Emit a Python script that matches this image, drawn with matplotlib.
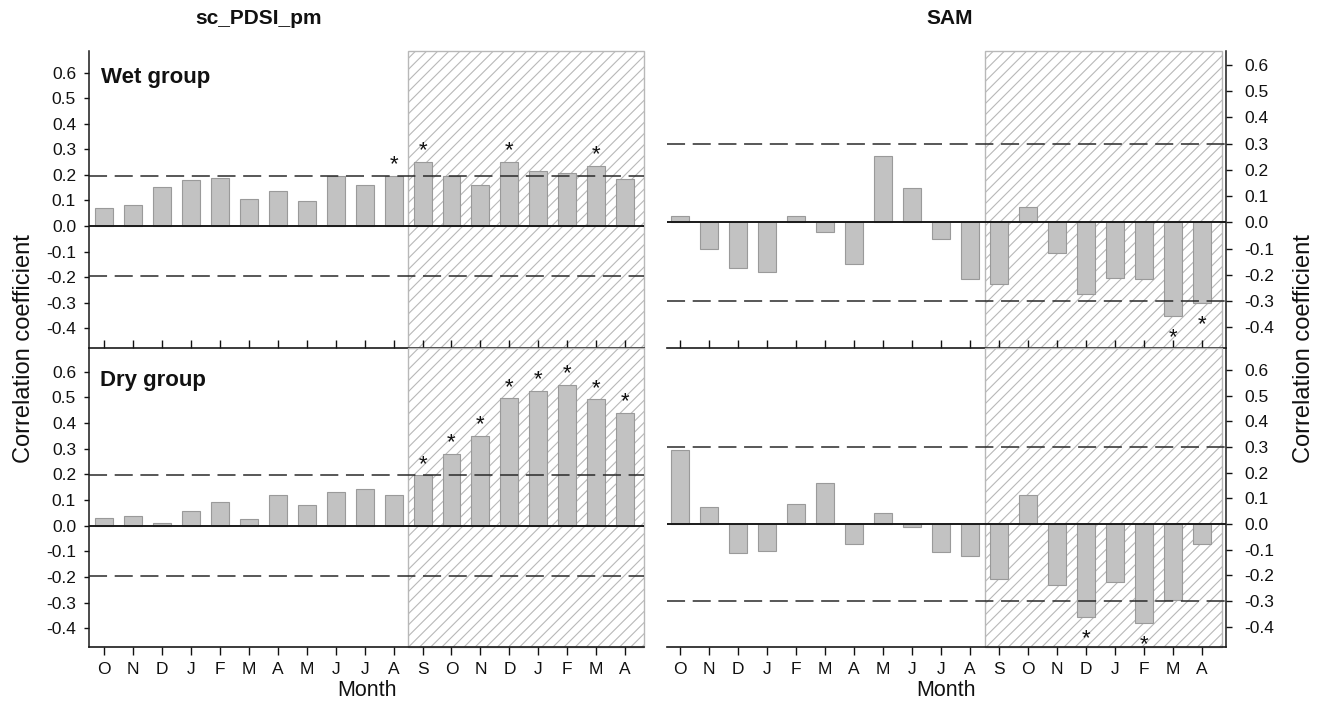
import matplotlib
matplotlib.use("Agg")
import matplotlib.pyplot as plt
import numpy as np

plt.rcParams['font.family'] = ['Liberation Sans', 'DejaVu Sans']
plt.rcParams['axes.unicode_minus'] = False
plt.rcParams['lines.scale_dashes'] = False
plt.rcParams['hatch.linewidth'] = 0.8

# ---------------- data ----------------
months = ['O', 'N', 'D', 'J', 'F', 'M', 'A', 'M', 'J', 'J', 'A',
          'S', 'O', 'N', 'D', 'J', 'F', 'M', 'A']

pdsi_wet = [0.072, 0.084, 0.154, 0.179, 0.187, 0.104, 0.136, 0.099, 0.195, 0.162,
            0.197, 0.249, 0.195, 0.162, 0.250, 0.214, 0.208, 0.234, 0.182]
pdsi_wet_sig = [0, 0, 0, 0, 0, 0, 0, 0, 0, 0, 1, 1, 0, 0, 1, 0, 0, 1, 0]

pdsi_dry = [0.031, 0.039, 0.012, 0.059, 0.094, 0.024, 0.119, 0.082, 0.133, 0.143,
            0.119, 0.196, 0.280, 0.350, 0.496, 0.525, 0.549, 0.492, 0.440]
pdsi_dry_sig = [0, 0, 0, 0, 0, 0, 0, 0, 0, 0, 0, 1, 1, 1, 1, 1, 1, 1, 1]

sam_wet = [0.023, -0.103, -0.174, -0.189, 0.023, -0.036, -0.160, 0.254, 0.131, -0.064,
           -0.217, -0.235, 0.058, -0.118, -0.272, -0.212, -0.215, -0.358, -0.306]
sam_wet_sig = [0, 0, 0, 0, 0, 0, 0, 0, 0, 0, 0, 0, 0, 0, 0, 0, 0, 1, 1]

sam_dry = [0.290, 0.066, -0.112, -0.106, 0.077, 0.159, -0.076, 0.043, -0.010, -0.109,
           -0.125, -0.213, 0.112, -0.238, -0.362, -0.226, -0.386, -0.297, -0.079]
sam_dry_sig = [0, 0, 0, 0, 0, 0, 0, 0, 0, 0, 0, 0, 0, 0, 1, 0, 1, 0, 0]

pdsi_threshold = 0.197
sam_threshold = 0.30
yticks = [0.6, 0.5, 0.4, 0.3, 0.2, 0.1, 0.0, -0.1, -0.2, -0.3, -0.4]
group_labels = ['Wet group', 'Dry group']
titles = ['sc_PDSI_pm', 'SAM']

# ---------------- figure ----------------
W, H = 1323, 715
fig = plt.figure(figsize=(W / 100, H / 100), dpi=100)

def px_axes(x0, x1, ytop, ybot):
    return fig.add_axes([x0 / W, 1 - ybot / H, (x1 - x0) / W, (ybot - ytop) / H])

ax_tl = px_axes(89.3, 644, 50.5, 348.3)
ax_bl = px_axes(89.3, 644, 348.3, 647.3)
ax_tr = px_axes(667, 1226, 50.5, 348.3)
ax_br = px_axes(667, 1226, 348.3, 647.3)

x = np.arange(len(months))
spine_col = '#1a1a1a'

panels = [
    (ax_tl, pdsi_wet, pdsi_wet_sig, pdsi_threshold, (-0.478, 0.686), (-0.51, 18.65), 18.65, 'left', True),
    (ax_bl, pdsi_dry, pdsi_dry_sig, pdsi_threshold, (-0.474, 0.691), (-0.51, 18.65), 18.65, 'left', False),
    (ax_tr, sam_wet, sam_wet_sig, sam_threshold, (-0.48, 0.655), (-0.46, 18.83), 18.70, 'right', True),
    (ax_br, sam_dry, sam_dry_sig, sam_threshold, (-0.48, 0.685), (-0.46, 18.83), 18.70, 'right', False),
]

for ax, vals, sig, thr, ylim, xlim, hatch_end, side, is_top in panels:
    ax.set_xlim(*xlim)
    ax.set_ylim(*ylim)
    # hatched season region
    ax.axvspan(10.5, hatch_end, ymin=0, ymax=1, facecolor='white',
               edgecolor='#b8b8b8', hatch='///', lw=1.0, zorder=0, clip_on=False)
    ax.bar(x, vals, width=0.62, color='#c2c2c2', edgecolor='#9a9a9a',
           linewidth=0.8, zorder=2)
    ax.axhline(0, color='#1a1a1a', lw=1.4, zorder=4)
    for t in (thr, -thr):
        ax.axhline(t, color='#2a2a2a', lw=1.1, dashes=(13, 5.5), zorder=5)
    for xi, v, s in zip(x, vals, sig):
        if s:
            if v >= 0:
                ax.text(xi, v + 0.022, '*', ha='center', va='baseline',
                        fontsize=16, color='#111111', zorder=6)
            else:
                ax.text(xi, v - 0.104, '*', ha='center', va='baseline',
                        fontsize=16, color='#111111', zorder=6)

    for sp in ['top', 'left', 'right', 'bottom']:
        ax.spines[sp].set_visible(False)
    ax.spines['bottom'].set_visible(True)
    ax.spines['bottom'].set_color(spine_col)
    ax.spines['bottom'].set_linewidth(1.2)
    ax.spines['bottom'].set_zorder(7)
    ax.spines[side].set_visible(True)
    ax.spines[side].set_color(spine_col)
    ax.spines[side].set_linewidth(1.1)

    ax.set_yticks(yticks)
    ax.set_yticklabels(['%.1f' % v for v in yticks])
    if side == 'left':
        ax.yaxis.tick_left()
        ax.tick_params(axis='y', direction='out', length=3.5, width=1,
                       pad=6, labelsize=12.5, colors='#111111')
    else:
        ax.yaxis.tick_right()
        ax.tick_params(axis='y', direction='out', length=4, width=1,
                       pad=9, labelsize=12.5, colors='#111111')

    ax.set_xticks(x)
    if is_top:
        ax.set_xticklabels([])
        ax.tick_params(axis='x', direction='in', length=5.5, width=1,
                       colors='#111111')
    else:
        ax.set_xticklabels(months)
        ax.tick_params(axis='x', direction='out', length=6, width=1,
                       pad=4.5, labelsize=12.5, colors='#111111')
    ax.set_facecolor('none')

# group labels
fig.text(101 / W, 1 - 83 / H, group_labels[0], fontsize=16, fontweight='bold',
         ha='left', va='baseline', color='#111111')
fig.text(100 / W, 1 - 386 / H, group_labels[1], fontsize=16, fontweight='bold',
         ha='left', va='baseline', color='#111111')

# column titles
fig.text(259 / W, 1 - 18 / H, titles[0], fontsize=15, fontweight='bold',
         ha='center', va='center', color='#111111')
fig.text(950 / W, 1 - 18 / H, titles[1], fontsize=15, fontweight='bold',
         ha='center', va='center', color='#111111')

# axis labels
fig.text(367 / W, 1 - 691 / H, 'Month', fontsize=15.5, ha='center', va='center', color='#111111')
fig.text(946 / W, 1 - 691 / H, 'Month', fontsize=15.5, ha='center', va='center', color='#111111')
fig.text(24 / W, 1 - 349 / H, 'Correlation coefficient', fontsize=17, rotation=90,
         ha='center', va='center', color='#111111')
fig.text(1304 / W, 1 - 349 / H, 'Correlation coefficient', fontsize=17, rotation=90,
         ha='center', va='center', color='#111111')

fig.savefig('out.png', dpi=100)
